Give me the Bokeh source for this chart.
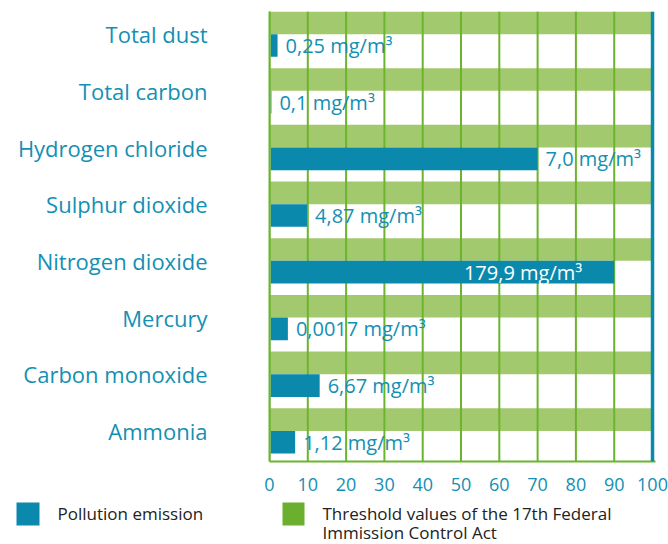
from bokeh.plotting import figure
from bokeh.models import Range1d, FixedTicker, ColumnDataSource, Span
from bokeh.layouts import column
from bokeh.embed import file_html
from bokeh.resources import INLINE
from bokeh.core.properties import value

# ---- data ----
categories = ["Total dust", "Total carbon", "Hydrogen chloride", "Sulphur dioxide",
              "Nitrogen dioxide", "Mercury", "Carbon monoxide", "Ammonia"]
emission_pct = [2.1, 0.5, 70.0, 9.8, 90.0, 4.8, 13.1, 6.7]      # % of threshold
threshold_pct = [100, 100, 100, 100, 100, 100, 100, 100]
value_labels = ["0,25 mg/m³", "0,1 mg/m³", "7,0 mg/m³", "4,87 mg/m³",
                "179,9 mg/m³", "0,0017 mg/m³", "6,67 mg/m³", "1,12 mg/m³"]
x_ticks = [0, 10, 20, 30, 40, 50, 60, 70, 80, 90, 100]
legend_labels = ["Pollution emission",
                 "Threshold values of the  17th Federal\nImmission Control Act"]

BLUE = "#0a89ad"
TEXT_BLUE = "#1390b3"
GREEN_BAR = "#a3c96e"
GREEN_LINE = "#6db42e"
GREEN_KEY = "#6aaf2d"
FONT = "Open Sans"

n = len(categories)
idx = list(range(n))
Y0, Y1 = -0.4, 7.54

p = figure(width=668, height=496, output_backend="svg", toolbar_location=None,
           x_range=Range1d(0, 100.78), y_range=Range1d(Y1, Y0),
           min_border_left=269, min_border_right=13, min_border_top=11,
           min_border_bottom=35)
p.frame_align = False
p.outline_line_color = None
p.xgrid.visible = False
p.ygrid.visible = False

# threshold bands
thr = ColumnDataSource(dict(y=[i - 0.2 for i in idx], right=threshold_pct))
p.hbar(y="y", height=0.4, left=0, right="right", source=thr,
       fill_color=GREEN_BAR, line_color=None)

# vertical grid lines (above bands, below emission bars)
p.segment(x0=x_ticks[:-1], x1=x_ticks[:-1], y0=Y0, y1=Y1,
          line_color=GREEN_LINE, line_width=2)

# emission bars
em = ColumnDataSource(dict(y=[i + 0.2 for i in idx], right=emission_pct))
p.hbar(y="y", height=0.4, left=0.3, right="right", source=em,
       fill_color=BLUE, line_color=None)

# value labels
out_i = [i for i in idx if emission_pct[i] < 80]
in_i = [i for i in idx if emission_pct[i] >= 80]
src_out = ColumnDataSource(dict(x=[emission_pct[i] for i in out_i],
                                y=[i + 0.2 for i in out_i],
                                t=[value_labels[i] for i in out_i]))
src_in = ColumnDataSource(dict(x=[emission_pct[i] for i in in_i],
                               y=[i + 0.2 for i in in_i],
                               t=[value_labels[i] for i in in_i]))
p.text(x="x", y="y", text="t", source=src_out, x_offset=8,
       text_baseline="middle", text_align="left", text_color=TEXT_BLUE,
       text_font=value(FONT), text_font_size="20px")
p.text(x="x", y="y", text="t", source=src_in, x_offset=-32,
       text_baseline="middle", text_align="right", text_color="white",
       text_font=value(FONT), text_font_size="20px")

# blue line at 100
p.add_layout(Span(location=100, dimension="height", line_color=BLUE, line_width=3.5))

# axes
p.xaxis.ticker = FixedTicker(ticks=x_ticks)
p.xaxis.axis_line_color = GREEN_LINE
p.xaxis.axis_line_width = 2
p.xaxis.major_tick_line_color = None
p.xaxis.minor_tick_line_color = None
p.xaxis.major_label_text_color = TEXT_BLUE
p.xaxis.major_label_text_font = FONT
p.xaxis.major_label_text_font_size = "18px"
p.xaxis.major_label_standoff = 10

p.yaxis.ticker = FixedTicker(ticks=idx)
p.yaxis.major_label_overrides = {i: c for i, c in zip(idx, categories)}
p.yaxis.axis_line_color = GREEN_LINE
p.yaxis.axis_line_width = 2
p.yaxis.major_tick_line_color = None
p.yaxis.minor_tick_line_color = None
p.yaxis.major_label_text_color = TEXT_BLUE
p.yaxis.major_label_text_font = FONT
p.yaxis.major_label_text_font_size = "22px"
p.yaxis.major_label_standoff = 56

# ---- legend strip (pixel coordinates) ----
lg = figure(width=668, height=48, output_backend="svg", toolbar_location=None,
            x_range=Range1d(0, 668), y_range=Range1d(48, 0), min_border=0)
lg.frame_align = False
lg.outline_line_color = None
lg.xaxis.visible = False
lg.yaxis.visible = False
lg.xgrid.visible = False
lg.ygrid.visible = False
lg.quad(left=[16, 282], right=[39, 304], top=[6, 6], bottom=[29, 29],
        fill_color=[BLUE, GREEN_KEY], line_color=None)
text_x = [57, 322]
for k, lab in enumerate(legend_labels):
    lines = lab.split("\n")
    lg.text(x=[text_x[k]] * len(lines), y=[17 + 19 * j for j in range(len(lines))],
            text=lines, text_baseline="middle", text_align="left",
            text_font=value(FONT), text_font_size="17px", text_color="#222222")

layout = column(p, lg, spacing=0)
open("out.html", "w").write(file_html(layout, INLINE))
